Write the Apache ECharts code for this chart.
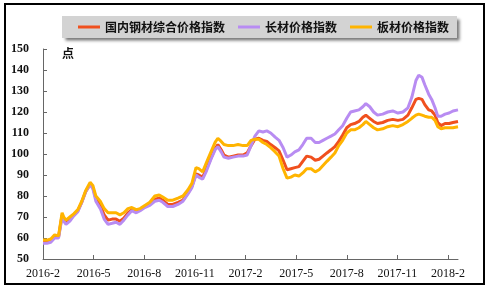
<!DOCTYPE html>
<html><head><meta charset="utf-8">
<script src="https://cdn.jsdelivr.net/npm/echarts@6/dist/echarts.min.js"></script>
<style>html,body{margin:0;padding:0;background:#fff}#c{width:494px;height:293px}</style>
</head><body><div id="c"></div>
<script>
var dates = ["2016-02-01","2016-02-08","2016-02-15","2016-02-22","2016-02-29","2016-03-05","2016-03-08","2016-03-12","2016-03-19","2016-03-26",
"2016-04-03","2016-04-10","2016-04-17","2016-04-25","2016-04-30","2016-05-05","2016-05-13","2016-05-20","2016-05-27","2016-06-04",
"2016-06-11","2016-06-18","2016-06-25","2016-07-02","2016-07-09","2016-07-17","2016-07-24","2016-08-02","2016-08-11","2016-08-20",
"2016-08-28","2016-09-04","2016-09-13","2016-09-22","2016-10-01","2016-10-10","2016-10-19","2016-10-26","2016-11-03","2016-11-08",
"2016-11-15","2016-11-22","2016-11-30","2016-12-07","2016-12-12","2016-12-18","2016-12-23","2016-12-31","2017-01-09","2017-01-18",
"2017-01-27","2017-02-04","2017-02-11","2017-02-18","2017-02-25","2017-03-02","2017-03-09","2017-03-16","2017-03-24","2017-03-31",
"2017-04-08","2017-04-15","2017-04-22","2017-04-29","2017-05-06","2017-05-13","2017-05-20","2017-05-28","2017-06-05","2017-06-12",
"2017-06-19","2017-06-26","2017-07-03","2017-07-10","2017-07-17","2017-07-24","2017-08-01","2017-08-08","2017-08-15","2017-08-23",
"2017-08-30","2017-09-05","2017-09-12","2017-09-19","2017-09-26","2017-10-05","2017-10-14","2017-10-23","2017-11-02","2017-11-11",
"2017-11-20","2017-11-27","2017-12-04","2017-12-09","2017-12-15","2017-12-20","2017-12-27","2018-01-02","2018-01-08","2018-01-13",
"2018-01-19","2018-01-26","2018-02-03","2018-02-10","2018-02-19"];
var composite = [58,58,58.5,60.5,60.5,71,69,67.5,69,71,
73,77,82,85.5,84,79,75.5,71,68.5,69,
69,68,69.5,72,73.5,72.5,73.5,75,76,78.5,
79,78,76,76,77,78,81.5,84.5,90.5,90,
89,93,98,102.5,104.5,102,99.5,98.5,99,99.5,
99.5,100.5,104,107,107.5,106.5,106,104.5,103,101.5,
97,92.5,93,93.5,94,96.5,99,98.5,97,97.5,
99,100.5,102,103.5,106,109,112.5,114,114.5,115.5,
117.5,118.5,117,115.5,114.5,115,116,116.5,116,116.5,
118.5,122,126,126.5,126,123.5,121,120.5,118.5,115,
113.5,114.5,114.5,115,115.5];
var longSteel = [57.5,57.5,58,60,60,70,68,66.5,68,70.5,
72.5,77,82,85.5,83.5,77.5,74,69,66.5,67,
67.5,66.5,68.5,71,73,72,73,74.5,75.5,77.5,
78,77,75,75,76,77.5,81,84,90,89,
88,92,97.5,102,103.5,101,98.5,98,98.5,99,
99,99.5,104,108.5,111,110.5,111,110,108,106.5,
103,98.5,99.5,101,102,104.5,107.5,107.5,105.5,105.5,
106.5,107.5,108.5,109.5,111.5,113.5,117,120,120.5,121,
122.5,124,122.5,120,118.5,119,120,120.5,119.5,120,
122,127,135,137.5,136.5,133,128.5,126,122,118,
118,119,119.5,120.5,121];
var plate = [59,59,59.5,61.5,61,72,70,68.5,70,71.5,
73.5,77.5,82.5,86.5,85,80,77.5,74,72,72,
72,71,72,74,74.5,73.5,74,75.5,77,80,
80.5,79.5,78,78,79,80,83,86,93.5,93,
91.5,96,101,105.5,107.5,106,104.5,104,104,104.5,
104,104,106.5,107,107,105.5,104.5,103,101,99,
93,88.5,89,90,89.5,91,93,93,91.5,92.5,
94.5,96.5,98.5,100.5,104,106.5,110,111.5,111.5,112.5,
114,115.5,114,112.5,111.5,112,113,113.5,113,114,
115.5,117,118.5,119,118.5,118,117.5,117.5,116,113,
112,112.5,112.5,112.5,113];
var seriesNames = ["国内钢材综合价格指数","长材价格指数","板材价格指数"];
var yTicks = [50,60,70,80,90,100,110,120,130,140,150];
var xTickLabels = ["2016-2","2016-5","2016-8","2016-11","2017-2","2017-5","2017-8","2017-11","2018-2"];
var colors = ["#F0501E","#B88CF2","#FFB400"];

function monthOffset(d){var p=d.split("-").map(Number);return (p[0]-2016)*12+(p[1]-2)+(p[2]-1)/30.4;}
function pairs(vals){return vals.map(function(v,i){return [monthOffset(dates[i]),v];});}
var maxX = monthOffset(dates[dates.length-1]);

var chart = echarts.init(document.getElementById('c'));
chart.setOption({
  animation:false,
  backgroundColor:'#fff',
  color:colors,
  grid:{left:43,right:36,top:49,bottom:34},
  legend:{
    left:62, top:16, padding:[5,8,5,16], itemGap:13,
    backgroundColor:'#d3d3d3',
    shadowColor:'rgba(0,0,0,0.55)', shadowBlur:3, shadowOffsetX:3, shadowOffsetY:3,
    icon:'rect', itemWidth:22, itemHeight:3,
    textStyle:{fontFamily:'Noto Sans CJK SC',fontSize:12,fontWeight:'bold',color:'#111',padding:[0,0,0,0]},
    data:seriesNames
  },
  xAxis:{
    type:'value', min:0, max:maxX, interval:3,
    splitLine:{show:false},
    axisLine:{lineStyle:{color:'#666',width:1}},
    axisTick:{inside:true,length:4,lineStyle:{color:'#666'}},
    axisLabel:{showMaxLabel:false,margin:9,fontFamily:'Liberation Serif',fontSize:12,color:'#111',
      formatter:function(v){var i=Math.round(v/3);return (Math.abs(v-i*3)<1e-6&&xTickLabels[i])?xTickLabels[i]:'';}}
  },
  yAxis:{
    type:'value', min:yTicks[0], max:yTicks[yTicks.length-1], interval:10,
    splitLine:{show:false},
    axisLine:{show:true,lineStyle:{color:'#666',width:1}},
    axisTick:{show:true,inside:true,length:4,lineStyle:{color:'#666'}},
    axisLabel:{margin:14,fontFamily:'Liberation Serif',fontWeight:'bold',fontSize:12,color:'#111'}
  },
  graphic:[
    {type:'rect',shape:{x:5,y:4,width:479,height:280},style:{fill:'none',stroke:'#000',lineWidth:2},z:100},
    {type:'text',left:62,top:47,style:{text:'点',font:'bold 12px "Noto Sans CJK SC"',fill:'#111'}}
  ],
  series:[composite,longSteel,plate].map(function(vals,i){
    return {name:seriesNames[i],type:'line',data:pairs(vals),showSymbol:false,symbol:'none',
      lineStyle:{width:3,color:colors[i]},itemStyle:{color:colors[i]}};
  })
});
</script></body></html>
